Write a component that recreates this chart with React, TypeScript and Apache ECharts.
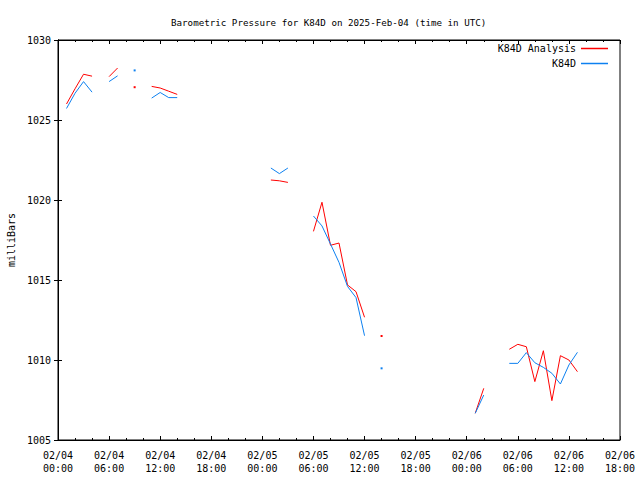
import React, { useEffect, useRef } from "react";
import * as echarts from "echarts";

// Hours since 2025-02-04 00:00 UTC
const analysisHours = [1, 2, 3, 4, 6, 7, 9, 11, 12, 13, 14, 25, 26, 27, 30, 31, 32, 33, 34, 35, 36, 38, 49, 50, 53, 54, 55, 56, 57, 58, 59, 60, 61];
const analysisValues = [1026.0, 1026.95, 1027.86, 1027.74, 1027.71, 1028.25, 1027.05, 1027.1, 1027.0, 1026.8, 1026.6, 1021.25, 1021.2, 1021.1, 1018.04, 1019.86, 1017.17, 1017.31, 1014.69, 1014.27, 1012.67, 1011.5, 1006.67, 1008.23, 1010.67, 1010.98, 1010.83, 1008.65, 1010.58, 1007.46, 1010.27, 1010.0, 1009.27];

const obsHours = [1, 2, 3, 4, 6, 7, 9, 11, 12, 13, 14, 25, 26, 27, 30, 31, 32, 33, 34, 35, 36, 38, 49, 50, 53, 54, 55, 56, 57, 58, 59, 60, 61];
const obsValues = [1025.72, 1026.67, 1027.4, 1026.74, 1027.4, 1027.76, 1028.1, 1026.37, 1026.72, 1026.4, 1026.4, 1022.0, 1021.65, 1022.0, 1019.0, 1018.38, 1017.25, 1016.1, 1014.6, 1013.9, 1011.52, 1009.48, 1006.67, 1007.81, 1009.79, 1009.79, 1010.46, 1009.83, 1009.54, 1009.17, 1008.5, 1009.69, 1010.48];

const dayLabels = ["02/04", "02/05", "02/06"];
const timeLabels = ["00:00", "06:00", "12:00", "18:00"];

const FONT = "DejaVu Sans Mono";

function buildData(hours: number[], values: number[]) {
  const out: any[] = [];
  for (let i = 0; i < hours.length; i++) {
    const h = hours[i];
    const prevGap = i === 0 || hours[i - 1] !== h - 1;
    const nextGap = i === hours.length - 1 || hours[i + 1] !== h + 1;
    if (prevGap && i > 0) out.push([h - 0.5, "-"]);
    if (prevGap && nextGap) {
      out.push({ value: [h, values[i]], symbol: "rect", symbolSize: 2 });
    } else {
      out.push([h, values[i]]);
    }
  }
  return out;
}

export default function App() {
  const ref = useRef<HTMLDivElement>(null);
  useEffect(() => {
    if (!ref.current) return;
    const chart = echarts.init(ref.current, null, { renderer: "svg" });
    const fmt = (v: number) => {
      const d = Math.floor(v / 24);
      const t = Math.round((v % 24) / 6);
      return dayLabels[d] + "\n" + timeLabels[t];
    };
    const axisCommon = {
      axisLine: { show: true, lineStyle: { color: "#000", width: 1 } },
      splitLine: { show: false },
    };
    chart.setOption({
      animation: false,
      backgroundColor: "#fff",
      title: {
        text: "Barometric Pressure for K84D on 2025-Feb-04 (time in UTC)",
        left: 166,
        top: 13,
        textStyle: { fontFamily: FONT, fontSize: 9.2, fontWeight: "normal", color: "#000" },
      },
      legend: {
        orient: "vertical",
        right: 27,
        top: 37,
        align: "right",
        itemWidth: 27,
        itemHeight: 1.5,
        itemGap: 2,
        icon: "rect",
        textStyle: { fontFamily: FONT, fontSize: 10, color: "#000", lineHeight: 13 },
        data: ["K84D Analysis", "K84D"],
      },
      grid: {
        left: 58,
        right: 20,
        top: 40,
        bottom: 40,
        containLabel: false,
        outerBoundsMode: "none",
        show: true,
        borderColor: "#000",
        borderWidth: 1,
      },
      xAxis: [
        {
          type: "value",
          min: 0,
          max: 66,
          interval: 6,
          position: "bottom",
          ...axisCommon,
          axisTick: { show: true, inside: true, length: 4, lineStyle: { color: "#000" } },
          minorTick: { show: true, splitNumber: 3, length: 2, lineStyle: { color: "#000" } },
          axisLabel: { formatter: fmt, fontFamily: FONT, fontSize: 10, color: "#000", lineHeight: 13, margin: 9, hideOverlap: false },
        },
        {
          type: "value",
          min: 0,
          max: 66,
          interval: 6,
          position: "top",
          ...axisCommon,
          axisTick: { show: true, inside: true, length: 4, lineStyle: { color: "#000" } },
          minorTick: { show: true, splitNumber: 3, length: 2, lineStyle: { color: "#000" } },
          axisLabel: { show: false },
        },
      ],
      yAxis: [
        {
          type: "value",
          min: 1005,
          max: 1030,
          interval: 5,
          position: "left",
          ...axisCommon,
          name: "milliBars",
          nameLocation: "middle",
          nameGap: 42,
          nameRotate: 90,
          nameTextStyle: { fontFamily: FONT, fontSize: 10, color: "#000" },
          axisTick: { show: true, inside: true, length: 4, lineStyle: { color: "#000" } },
          axisLabel: { formatter: (v: number) => String(v), fontFamily: FONT, fontSize: 10, color: "#000", margin: 7 },
        },
        {
          type: "value",
          min: 1005,
          max: 1030,
          interval: 5,
          position: "right",
          ...axisCommon,
          axisTick: { show: true, inside: true, length: 4, lineStyle: { color: "#000" } },
          axisLabel: { show: false },
        },
      ],
      series: [
        {
          name: "K84D Analysis",
          type: "line",
          xAxisIndex: 0,
          yAxisIndex: 0,
          data: buildData(analysisHours, analysisValues),
          symbol: "none",
          showSymbol: true,
          connectNulls: false,
          color: "#ff0000",
          itemStyle: { color: "#ff0000" },
          lineStyle: { color: "#ff0000", width: 1 },
        },
        {
          name: "K84D",
          type: "line",
          xAxisIndex: 0,
          yAxisIndex: 0,
          data: buildData(obsHours, obsValues),
          symbol: "none",
          showSymbol: true,
          connectNulls: false,
          color: "#0d80f0",
          itemStyle: { color: "#0d80f0" },
          lineStyle: { color: "#0d80f0", width: 1 },
        },
      ],
    });
    return () => chart.dispose();
  }, []);
  return <div ref={ref} style={{ width: 640, height: 480, position: "absolute", left: 0, top: 0 }} />;
}
